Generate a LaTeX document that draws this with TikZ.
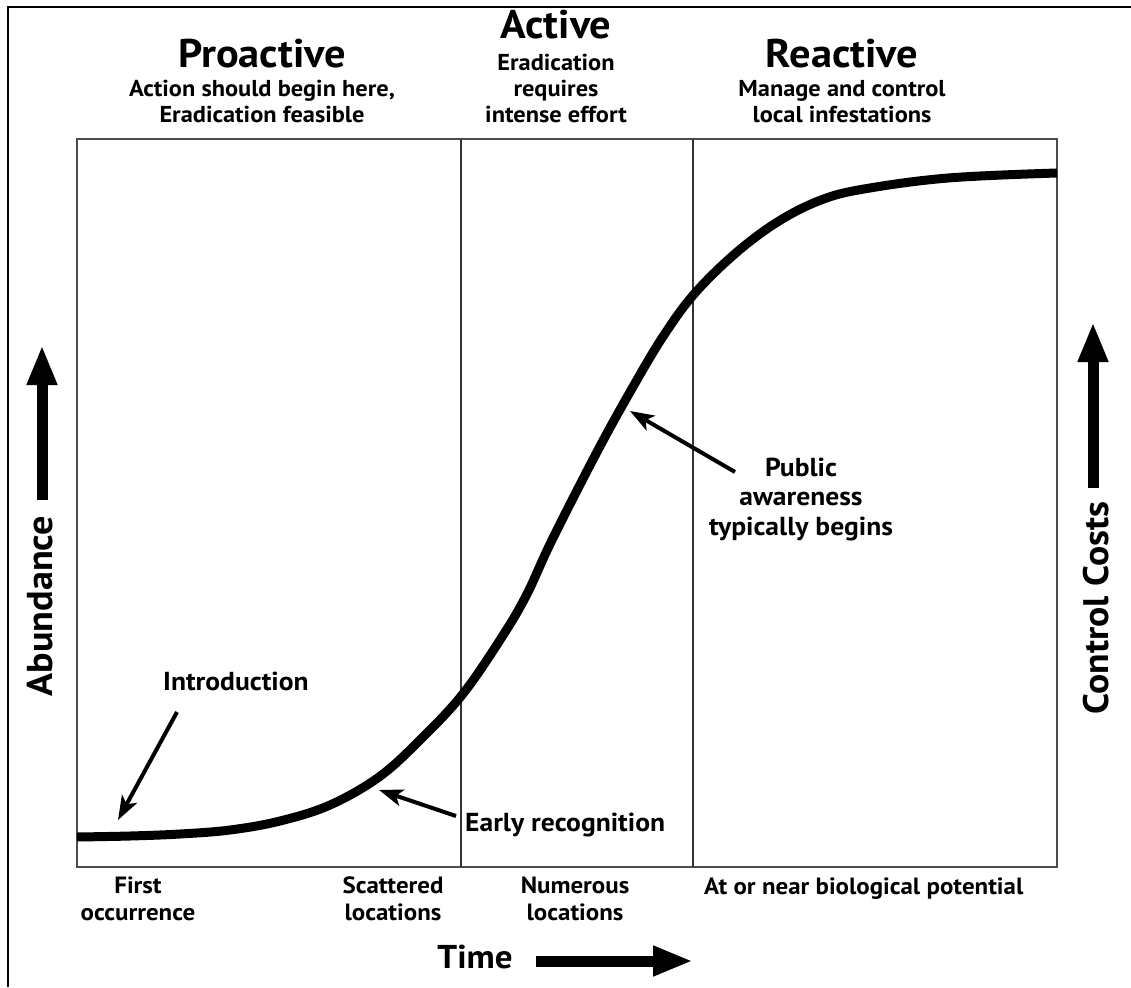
\documentclass[tikz,border=0pt]{standalone}
\usepackage{fontspec}
\setmainfont{PT Sans}[FakeStretch=1.06]
\usetikzlibrary{arrows.meta}
\begin{document}
\begin{tikzpicture}[x=1pt,y=-1pt,
  every node/.style={inner sep=0pt},
  title/.style={font=\bfseries\fontsize{40}{42}\selectfont, anchor=base},
  sub/.style={font=\bfseries\fontsize{23}{26.3}\selectfont, align=center, anchor=base},
  lab/.style={font=\bfseries\fontsize{26}{29.5}\selectfont, align=center, anchor=base},
  bot/.style={font=\bfseries\fontsize{23.5}{26.5}\selectfont, align=center, anchor=base},
  axis/.style={font=\bfseries\fontsize{36}{38}\selectfont},
  bigarrow/.style={line width=11pt, -{Triangle[length=40pt,width=28pt]}},
  pointer/.style={line width=4pt, -{Stealth[length=24pt,width=17pt,inset=6pt]}},
  curve/.style={line width=9pt},
  frame/.style={line width=2.5pt},
  boxline/.style={line width=2pt, draw=black!70},
  divider/.style={line width=1.2pt, draw=black!80}]
\useasboundingbox (0,0) rectangle (1131,987);
\fill[white] (0,0) rectangle (1131,987);
% outer frame
\draw[frame] (8,987) -- (8,7) -- (1131,7);
% plot box
\draw[boxline] (77,139) rectangle (1057,867);
\draw[divider] (461,139) -- (461,867);
\draw[divider] (693,139) -- (693,867);
% headers (base anchor = baseline of the last line)
\node[title] (pro) at (262,68) {Proactive};
\node[sub] (prosub) at (262,123) {Action should begin here,\\Eradication feasible};
\node[title] (act) at (556,39) {Active};
\node[sub] (actsub) at (556,123) {Eradication\\requires\\intense effort};
\node[title] (rea) at (842,68) {Reactive};
\node[sub] (reasub) at (842,123) {Manage and control\\local infestations};
% curve
\draw[curve] plot[smooth, tension=0.6] coordinates {
  (77,837) (130,836) (180,834) (230,830) (280,821) (330,805) (379,777)
  (420,740) (462,695) (500,640) (526,596) (552,540) (598,450) (634,385)
  (664,335) (695,293) (737,252) (779,221) (821,200) (864,189) (948,178)
  (1057,173)};
% annotations
\node[lab, anchor=base west] (intro) at (163,690) {Introduction};
\coordinate (introtail) at (177,712);
\coordinate (introtip) at (118,820);
\draw[pointer] (introtail) -- (introtip);
\node[lab, anchor=base west] (early) at (465,831) {Early recognition};
\coordinate (earlytail) at (456,816);
\coordinate (earlytip) at (379,790);
\draw[pointer] (earlytail) -- (earlytip);
\node[lab] (public) at (801,535) {Public\\awareness\\typically begins};
\coordinate (pubtail) at (735,472);
\coordinate (pubtip) at (630,411);
\draw[pointer] (pubtail) -- (pubtip);
% bottom labels
\node[bot] (first) at (138,920) {First\\occurrence};
\node[bot] (scat) at (393,920) {Scattered\\locations};
\node[bot] (num) at (575,920) {Numerous\\locations};
\node[bot, anchor=base west] (bio) at (704,894) {At or near biological potential};
% axes
\node[axis, font=\bfseries\fontsize{33}{36}\selectfont, anchor=base] (time) at (475,968) {Time};
\coordinate (timefrom) at (536,961);
\coordinate (timeto) at (693,961);
\draw[bigarrow] (timefrom) -- (timeto);
\node[axis, rotate=90] (abund) at (40,606) {Abundance};
\coordinate (abfrom) at (42,500);
\coordinate (abto) at (42,345);
\draw[bigarrow] (abfrom) -- (abto);
\node[axis, font=\bfseries\fontsize{35.5}{38}\selectfont, rotate=90] (cost) at (1096,608) {Control Costs};
\coordinate (cfrom) at (1093,488);
\coordinate (cto) at (1093,322);
\draw[bigarrow] (cfrom) -- (cto);
\end{tikzpicture}
\end{document}
